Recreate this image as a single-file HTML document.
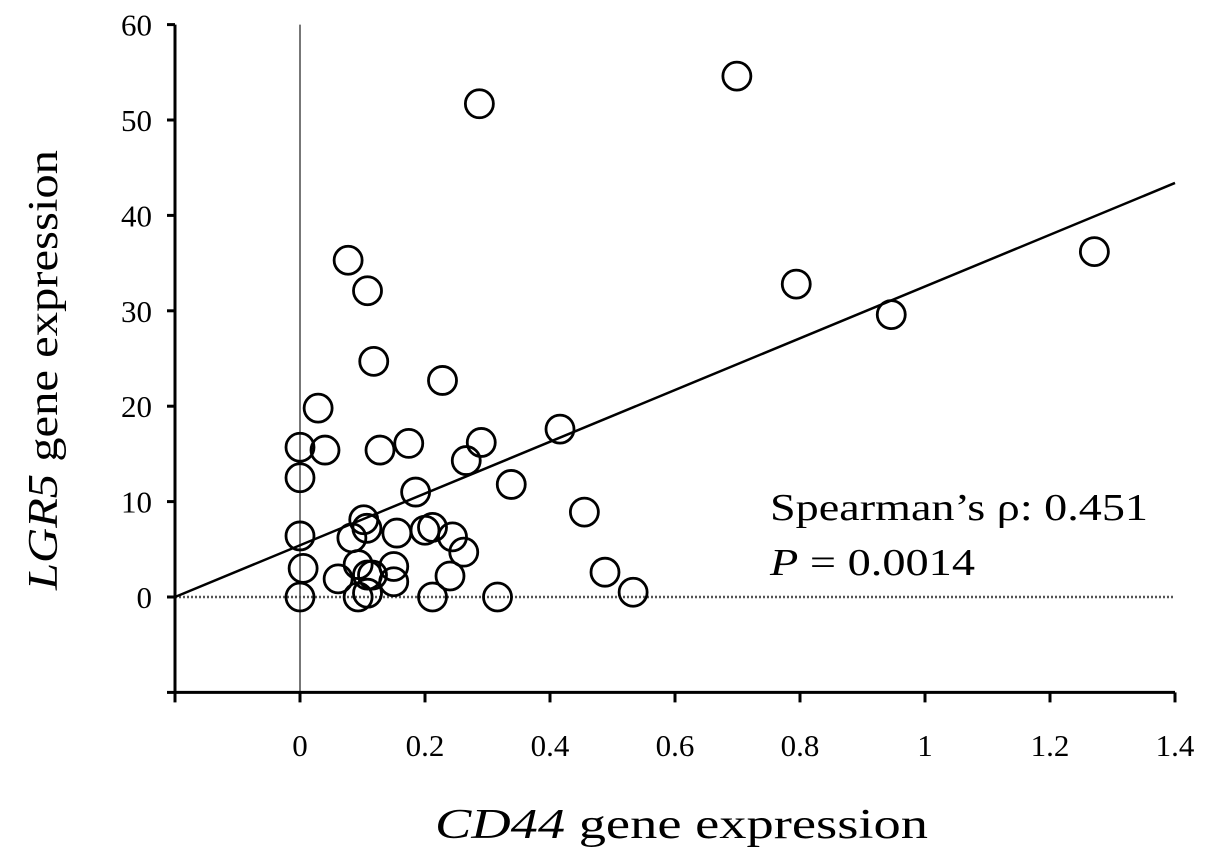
<!DOCTYPE html>
<html><head><meta charset="utf-8"><style>
html,body{margin:0;padding:0;background:#fff;}
svg{display:block;font-family:"Liberation Serif",serif;}
</style></head><body>
<svg id="chart" width="1205" height="859" viewBox="0 0 1205 859" xmlns="http://www.w3.org/2000/svg">
<g id="axes"></g>
<g id="marks"></g>
<text x="770" y="520" font-size="38" textLength="378" lengthAdjust="spacingAndGlyphs">Spearman’s ρ: 0.451</text>
<text x="770" y="575" font-size="38" textLength="205" lengthAdjust="spacingAndGlyphs"><tspan font-style="italic">P</tspan> = 0.0014</text>
<text x="435" y="838" font-size="42" textLength="493" lengthAdjust="spacingAndGlyphs"><tspan font-style="italic">CD44</tspan> gene expression</text>
<text transform="translate(57,590) rotate(-90)" font-size="42" textLength="440" lengthAdjust="spacingAndGlyphs"><tspan font-style="italic">LGR5</tspan> gene expression</text>
</svg>
<script>
const xs = [0.029,0,0.04,0,0.128,0.174,0.29,0.266,0.416,0.338,0.185,0.455,0,0.102,0.107,0.083,0.155,0.2,0.212,0.244,0.262,0.005,0.061,0.093,0.108,0.116,0.15,0.15,0.24,0.093,0.108,0,0.212,0.316,0.488,0.533,0.287,0.699,0.077,0.108,0.118,0.228,0.794,0.946,1.271];
const ys = [19.8,15.7,15.4,12.5,15.4,16.1,16.2,14.3,17.6,11.8,11.0,8.9,6.4,8.1,7.2,6.2,6.7,7.0,7.3,6.3,4.7,3.0,1.9,3.4,2.3,2.3,3.2,1.6,2.2,0,0.4,0,0,0,2.6,0.5,51.7,54.6,35.3,32.1,24.7,22.7,32.8,29.6,36.2];
const xTicks = [0,0.2,0.4,0.6,0.8,1,1.2,1.4];
const xTickLabels = ["0","0.2","0.4","0.6","0.8","1","1.2","1.4"];
const yTicks = [-10,0,10,20,30,40,50,60];
const yTickLabels = ["","0","10","20","30","40","50","60"];
const fitLine = [[-0.2,0],[1.4,43.4]];
const NS="http://www.w3.org/2000/svg";
const X = v => 300 + v*625;
const Y = v => 597 - v*9.54;
const axes=document.getElementById('axes'), marks=document.getElementById('marks');
function mk(tag,attrs,parent){const e=document.createElementNS(NS,tag);for(const k in attrs)e.setAttribute(k,attrs[k]);parent.appendChild(e);return e;}
let e;
e=mk('line',{x1:X(0),y1:Y(60),x2:X(0),y2:Y(-10),stroke:'#777','stroke-width':2},axes);


e=mk('line',{x1:X(-0.2),y1:Y(0),x2:X(1.4),y2:Y(0),stroke:'#555','stroke-width':2.5,'stroke-dasharray':'2,2'},axes);


e=mk('line',{x1:X(-0.2),y1:Y(60),x2:X(-0.2),y2:Y(-10)+1.5,stroke:'#000','stroke-width':3},axes);


e=mk('line',{x1:X(-0.2)-1.5,y1:Y(-10),x2:X(1.4),y2:Y(-10),stroke:'#000','stroke-width':3},axes);


yTicks.forEach((v,i)=>{
  const t=mk('line',{x1:X(-0.2)-8,y1:Y(v),x2:X(-0.2),y2:Y(v),stroke:'#000','stroke-width':3},axes);
  
  
  if(yTickLabels[i]){const l=mk('text',{x:152,y:Y(v)+11,'font-size':31,'text-anchor':'end'},axes);l.textContent=yTickLabels[i];
  
  }
});
[-0.2].concat(xTicks).forEach(v=>{
  const t=mk('line',{x1:X(v),y1:Y(-10),x2:X(v),y2:Y(-10)+10,stroke:'#000','stroke-width':3},axes);
  
  
});
xTicks.forEach((v,i)=>{
  const l=mk('text',{x:X(v),y:756,'font-size':31,'text-anchor':'middle'},axes);l.textContent=xTickLabels[i];
  
  
});
e=mk('line',{x1:X(fitLine[0][0]),y1:Y(fitLine[0][1]),x2:X(fitLine[1][0]),y2:Y(fitLine[1][1]),stroke:'#000','stroke-width':2.5},marks);


xs.forEach((x,i)=>{
  const c=mk('circle',{cx:X(x),cy:Y(ys[i]),r:14,fill:'none',stroke:'#000','stroke-width':2.8},marks);
  
  
});
</script>
</body></html>
